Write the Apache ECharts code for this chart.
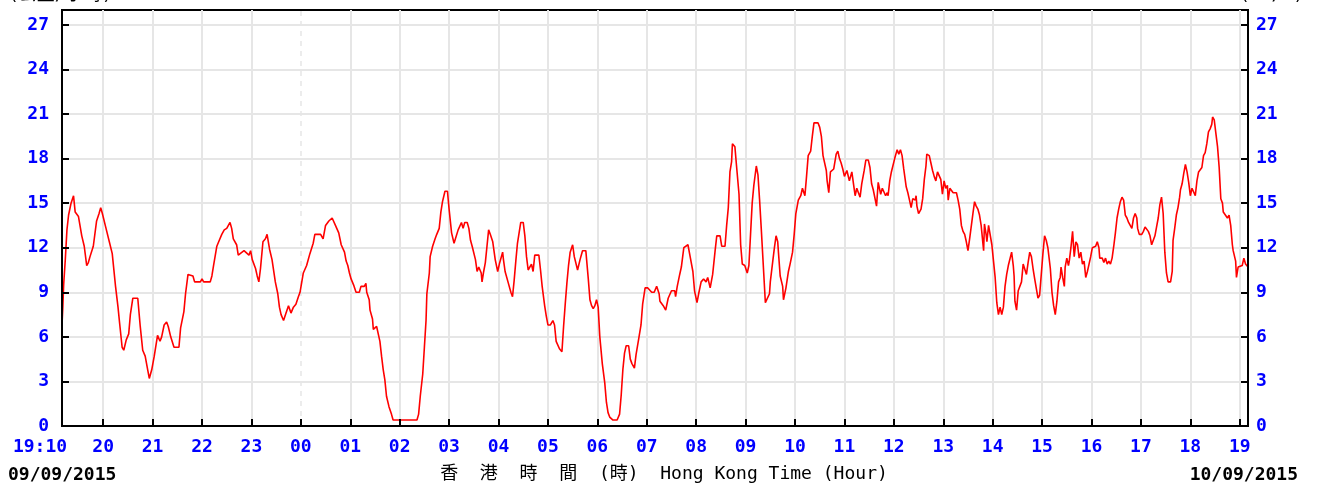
<!DOCTYPE html>
<html>
<head>
<meta charset="utf-8">
<script src="https://cdn.jsdelivr.net/npm/echarts@6/dist/echarts.min.js"></script>
<style>
  html, body { margin: 0; padding: 0; background: #ffffff; }
  #chart { width: 1320px; height: 490px; }
</style>
</head>
<body>
<div id="chart"></div>
<script>
// Wind speed record, 19:10 on 09/09/2015 to 19:10 on 10/09/2015.
// Times are minutes elapsed since 19:10; speeds in km/h.
const elapsedMin = [
  0, 1, 2, 4, 6, 8, 11, 14, 16, 20, 24, 27, 30, 32, 34, 38, 40, 42, 45, 47, 49, 53, 57, 61, 65, 68, 70, 73, 75, 78,
  81, 83, 86, 92, 95, 98, 101, 104, 106, 109, 112, 116, 119, 121, 124, 127, 129, 132, 136, 142, 144, 148, 150, 153, 155, 159, 161, 168, 170, 172,
  180, 182, 184, 188, 191, 194, 197, 200, 204, 206, 208, 212, 214, 221, 227, 229, 231, 235, 237, 239, 241, 244, 247, 249, 252, 255, 259, 262, 264, 266,
  269, 272, 275, 278, 281, 284, 287, 289, 293, 297, 301, 305, 307, 314, 317, 320, 324, 328, 332, 336,
  339, 341, 343, 345, 347, 349, 351, 354, 357, 361, 363, 367, 369, 370, 373, 374, 377, 378, 382, 384, 386, 388, 390, 392, 394, 397, 400, 402, 431, 433,
  435, 438, 440, 442, 443, 446, 447, 450, 453, 455, 458, 460, 462, 465, 468, 470, 473, 476, 478, 481, 483, 485, 487, 489, 492, 494, 496, 498, 500, 502,
  504, 506, 509, 510, 512, 514, 516, 518, 520, 523, 526, 529, 531, 533, 535, 536, 538, 542, 545, 547, 549, 551, 553, 555, 557, 560, 562, 564, 566, 568,
  570, 572, 574, 579, 581, 583, 586, 588, 590, 593, 596, 598, 600, 604, 607, 609, 611, 613, 615, 617, 620, 622, 626, 627, 629, 632, 636, 639, 641, 643,
  645, 647, 649, 651, 653, 656, 659, 661, 663, 665, 669, 674, 677, 679, 681, 683, 685, 688, 690, 692, 695, 697, 700, 703, 705, 708, 711, 716, 719, 722, 725,
  726, 730, 733, 736, 740, 744, 745, 747, 750, 752, 755, 760, 763, 766, 768, 771, 773, 776, 779, 782, 784, 787, 790, 793, 795, 799, 801, 805, 807, 809,
  811, 813, 814, 817, 819, 822, 824, 826, 829, 832, 834, 836, 838, 840, 843, 845, 847, 849, 852, 854, 856, 859, 860, 863, 865, 867, 869, 870, 872, 875,
  876, 879, 882, 884, 887, 889, 891, 894, 897, 899, 902, 904, 906, 909, 911, 913, 918, 920, 922, 924, 928, 929, 931, 933, 937, 940, 942, 944, 946, 948,
  950, 953, 956, 959, 961, 963, 965, 967, 969, 971, 974, 976, 979, 981, 983, 985, 987, 989, 991,
  992, 994, 996, 998, 1000, 1002, 1003, 1005, 1007, 1009, 1011, 1014, 1016, 1018, 1020, 1022, 1025, 1027, 1029, 1031, 1033, 1036, 1037, 1038, 1040, 1043, 1045, 1047, 1049, 1050,
  1053, 1055, 1057, 1059, 1061, 1063, 1065, 1067, 1069, 1071, 1073, 1075, 1076, 1078, 1080, 1082, 1084, 1086, 1088, 1090, 1092, 1094, 1096, 1098, 1100, 1102, 1104, 1106, 1108, 1110,
  1112, 1114, 1116, 1119, 1120, 1122, 1123, 1125, 1127, 1129, 1131, 1133, 1135, 1137, 1139, 1141, 1143, 1145, 1147, 1149, 1151, 1153, 1155, 1156, 1157, 1159, 1161, 1163, 1165, 1167,
  1169, 1171, 1173, 1175, 1177, 1179, 1181, 1183, 1185, 1187, 1189, 1191, 1193, 1195, 1197, 1200, 1202, 1204, 1206, 1208, 1210, 1212,
  1213, 1215, 1217, 1218, 1220, 1222, 1223, 1225, 1227, 1229, 1231, 1233, 1235, 1237, 1239, 1241, 1243, 1245, 1247, 1249, 1251, 1255, 1257, 1259, 1260, 1263, 1265, 1267, 1269, 1271,
  1273, 1275, 1277, 1279, 1281, 1283, 1285, 1287, 1289, 1291, 1293, 1295, 1297, 1299, 1301, 1303, 1305, 1306, 1308, 1311, 1313, 1315, 1317, 1319, 1321, 1323, 1325, 1327, 1329, 1331,
  1333, 1335, 1337, 1339, 1341, 1343, 1346, 1348, 1349, 1351, 1353, 1355, 1357, 1358, 1360, 1362, 1364, 1366, 1368, 1370, 1372, 1374, 1376, 1378, 1380, 1384, 1386, 1388, 1390, 1392,
  1394, 1396, 1397, 1399, 1401, 1403, 1405, 1407, 1409, 1410, 1412, 1415, 1417, 1419, 1421, 1422, 1425, 1426, 1428, 1430, 1433, 1435, 1437, 1439, 1440
];
const speedKmh = [
  6.8, 8.0, 9.5, 11.2, 13.2, 14.2, 15.0, 15.5, 14.4, 14.1, 12.8, 12.1, 10.8, 11.0, 11.4, 12.1, 12.2, 13.8, 14.3, 14.7, 14.3, 13.4, 12.5, 11.6, 9.4, 8.0, 6.9, 5.3, 5.1, 5.8,
  6.2, 7.5, 8.6, 8.6, 6.7, 5.1, 4.7, 3.8, 3.2, 3.8, 4.7, 6.1, 5.7, 6.0, 6.8, 7.0, 6.7, 6.0, 5.3, 5.3, 6.6, 7.7, 8.9, 10.2, 10.3, 10.1, 9.7, 9.7, 9.9, 9.7,
  9.7, 10.1, 10.8, 12.1, 12.5, 12.9, 13.2, 13.3, 13.7, 13.3, 12.6, 12.2, 11.5, 11.8, 11.5, 11.8, 11.2, 10.6, 10.1, 9.7, 10.6, 12.4, 12.6, 12.9, 11.9, 11.2, 9.7, 8.9, 8.0, 7.5,
  7.1, 7.6, 8.1, 7.6, 8.0, 8.2, 8.7, 9.0, 10.3, 10.8, 11.6, 12.3, 12.9, 12.9, 12.6, 13.5, 13.8, 14.0, 13.5, 13.0,
  12.2, 12.3, 11.7, 11.1, 10.8, 10.3, 9.9, 9.5, 9.0, 9.0, 9.4, 9.4, 9.6, 9.0, 8.5, 7.8, 7.2, 6.5, 6.7, 6.8, 5.7, 4.7, 3.8, 3.1, 2.0, 1.3, 0.8, 0.4, 0.4, 0.8,
  2.0, 3.5, 5.3, 7.1, 8.9, 10.3, 11.4, 12.1, 12.6, 12.9, 13.3, 14.4, 15.1, 15.8, 15.8, 14.6, 13.0, 12.3, 12.4, 13.2, 13.3, 13.7, 13.3, 13.7, 13.7, 13.3, 12.5, 12.1, 12.2, 11.2,
  10.4, 10.7, 10.3, 9.7, 10.4, 11.0, 12.1, 13.2, 12.9, 12.4, 11.2, 10.4, 10.9, 11.3, 11.7, 11.2, 10.4, 9.6, 9.0, 8.7, 9.8, 11.1, 12.3, 13.0, 13.7, 13.7, 12.8, 11.4, 10.5, 10.4,
  10.9, 10.4, 11.5, 11.5, 10.5, 9.4, 8.1, 7.4, 6.8, 6.8, 7.1, 6.8, 5.7, 5.2, 5.0, 6.7, 8.2, 9.6, 10.8, 11.7, 12.2, 11.4, 10.5, 10.4, 11.2, 11.8, 11.8, 9.9, 8.5, 8.1,
  7.9, 8.1, 8.5, 8.0, 6.0, 4.2, 2.9, 1.6, 0.9, 0.6, 0.4, 0.4, 0.8, 2.1, 3.8, 4.9, 5.4, 5.4, 4.5, 4.2, 3.9, 4.8, 5.8, 6.8, 8.2, 9.3, 9.3, 9.0, 9.0, 9.4, 8.9,
  8.4, 8.1, 7.8, 8.6, 9.1, 9.1, 8.7, 9.4, 10.2, 10.7, 12.0, 12.2, 11.3, 10.4, 9.1, 8.3, 8.9, 9.7, 9.9, 9.7, 10.0, 9.3, 10.2, 11.8, 12.8, 12.8, 12.1, 12.1, 13.5, 14.7,
  17.1, 17.8, 19.0, 18.8, 17.5, 15.6, 12.2, 10.9, 10.8, 10.3, 10.8, 12.9, 15.0, 16.2, 17.5, 16.9, 15.2, 13.3, 10.3, 8.3, 8.2, 8.9, 9.7, 11.1, 12.0, 12.8, 12.4, 11.6, 10.1, 9.4,
  8.5, 9.3, 10.4, 10.9, 11.7, 12.9, 14.3, 15.2, 15.5, 16.0, 15.5, 16.8, 18.2, 18.5, 19.5, 20.4, 20.4, 20.1, 19.5, 18.2, 17.2, 16.5, 15.7, 17.1, 17.3, 18.3, 18.5, 18.0, 17.7, 17.3,
  16.8, 17.2, 16.5, 17.1, 16.3, 15.5, 16.0, 15.7, 15.4, 16.3, 17.2, 17.9, 17.9, 17.4, 16.3, 15.9, 16.0, 14.8, 16.4,
  16.5, 15.6, 16.0, 15.9, 15.5, 15.7, 15.5, 16.5, 17.1, 17.2, 18.0, 18.6, 18.3, 18.6, 18.2, 17.3, 16.1, 15.7, 15.2, 14.7, 15.3, 15.2, 15.5, 14.8, 14.3, 14.6, 15.3, 16.6, 17.5, 18.3,
  18.2, 17.7, 17.2, 16.8, 16.5, 17.1, 17.2, 16.6, 15.6, 16.5, 16.0, 16.2, 15.2, 16.0, 16.1, 15.7, 15.6, 15.7, 15.2, 14.6, 13.5, 13.1, 12.9, 12.4, 11.8, 12.6, 12.7, 14.3, 15.1, 14.8,
  14.6, 14.2, 13.5, 11.8, 13.6, 12.9, 12.4, 13.5, 13.6, 12.2, 11.1, 10.0, 8.3, 7.5, 8.0, 7.5, 8.0, 9.4, 10.2, 10.8, 10.7, 11.7, 10.8, 10.1, 8.4, 7.8, 9.1, 9.0, 9.7, 10.9,
  11.0, 10.2, 11.0, 11.7, 11.4, 10.6, 9.9, 9.8, 8.6, 8.8, 10.2, 11.6, 12.8, 12.5, 12.0, 10.6, 9.0, 8.1, 7.5, 8.4, 9.7, 10.0,
  10.7, 10.0, 9.4, 10.7, 11.3, 10.8, 11.1, 12.0, 13.1, 11.4, 12.4, 12.2, 11.3, 11.7, 10.9, 11.1, 10.0, 10.4, 10.9, 11.4, 12.0, 12.1, 12.4, 12.0, 11.3, 11.3, 11.0, 11.3, 10.9, 11.1,
  10.9, 11.3, 12.1, 13.0, 14.0, 14.6, 15.1, 15.4, 15.2, 14.2, 14.0, 13.7, 13.5, 13.3, 14.0, 14.3, 14.0, 13.3, 12.9, 12.9, 13.1, 13.4, 13.5, 13.1, 12.8, 12.2, 12.2, 12.8, 13.4, 14.0,
  14.9, 15.4, 14.3, 11.7, 10.3, 9.7, 9.7, 10.4, 12.5, 13.3, 14.2, 14.7, 15.4, 15.9, 16.3, 17.0, 17.6, 17.1, 16.4, 15.5, 16.0, 16.1, 15.5, 16.5, 17.1, 17.4, 18.2, 18.4, 19.0, 19.8,
  20.0, 20.3, 20.8, 20.6, 19.7, 18.8, 17.4, 15.3, 15.0, 14.4, 14.3, 14.0, 14.2, 13.5, 12.2, 11.8, 11.1, 10.0, 10.7, 10.8, 10.8, 11.3, 10.9, 10.8, 10.7
];

// Hour ticks (minutes since 19:10) and their labels
const hourTicks = [50, 110, 170, 230, 290, 350, 410, 470, 530, 590, 650, 710, 770, 830, 890, 950, 1010, 1070, 1130, 1190, 1250, 1310, 1370, 1430];
const hourLabels = ['20', '21', '22', '23', '00', '01', '02', '03', '04', '05', '06', '07', '08', '09', '10', '11', '12', '13', '14', '15', '16', '17', '18', '19'];
const startLabel = '19:10';
const midnightTick = 290;
const speedTicks = [0, 3, 6, 9, 12, 15, 18, 21, 24, 27];
const startDate = '09/09/2015';
const endDate = '10/09/2015';
const xTitle = '香  港  時  間  (時)  Hong Kong Time (Hour)';
const leftUnit = '(公里/小時)';
const rightUnit = '(km/h)';

const MONO = '"DejaVu Sans Mono", "Liberation Mono", "Noto Sans CJK TC", monospace';
const BLUE = '#0000ff';
const GRID_GREY = '#e6e6e6';

const chart = echarts.init(document.getElementById('chart'), null, { renderer: 'canvas' });

const seriesData = elapsedMin.map((m, i) => [m, speedKmh[i]]);

// Reference lines for the plot background (hours and speed steps)
const gridLines = [];
hourTicks.forEach(m => {
  const item = { xAxis: m };
  if (m === midnightTick) item.lineStyle = { type: [5, 5], color: GRID_GREY, width: 1.5 };
  gridLines.push(item);
});
speedTicks.filter(v => v > 0).forEach(v => gridLines.push({ yAxis: v }));

const yLabelBase = {
  color: BLUE,
  fontFamily: MONO,
  fontWeight: 'bold',
  fontSize: 18,
  customValues: speedTicks
};
const yTickBase = {
  show: true,
  inside: true,
  length: 7,
  customValues: speedTicks,
  lineStyle: { color: '#000', width: 2 }
};

chart.setOption({
  animation: false,
  backgroundColor: '#ffffff',
  grid: {
    left: 62, right: 72, top: 10, bottom: 64,
    show: true,
    borderColor: '#000',
    borderWidth: 2,
    backgroundColor: 'transparent'
  },
  xAxis: {
    type: 'value',
    min: 0,
    max: 1440,
    z: 5,
    axisLine: { show: true, lineStyle: { color: '#000', width: 2 } },
    axisTick: {
      show: true, inside: true, length: 7,
      customValues: hourTicks,
      lineStyle: { color: '#000', width: 2 }
    },
    splitLine: { show: false },
    axisLabel: {
      customValues: [0].concat(hourTicks),
      margin: 12,
      color: BLUE,
      fontFamily: MONO,
      fontWeight: 'bold',
      fontSize: 18,
      formatter: function (v) {
        if (v === 0) return '{first|' + startLabel + '}';
        const idx = hourTicks.indexOf(v);
        return idx >= 0 ? hourLabels[idx] : '';
      },
      rich: {
        first: {
          color: BLUE, fontFamily: MONO, fontWeight: 'bold', fontSize: 18,
          padding: [0, 44, 0, 0]
        }
      }
    }
  },
  yAxis: [
    {
      type: 'value', position: 'left', min: 0, max: 28, z: 5,
      axisLine: { show: true, lineStyle: { color: '#000', width: 2 } },
      axisTick: yTickBase,
      splitLine: { show: false },
      axisLabel: Object.assign({ margin: 13 }, yLabelBase)
    },
    {
      type: 'value', position: 'right', min: 0, max: 28, z: 5,
      axisLine: { show: true, lineStyle: { color: '#000', width: 2 } },
      axisTick: yTickBase,
      splitLine: { show: false },
      axisLabel: Object.assign({ margin: 8 }, yLabelBase)
    }
  ],
  graphic: [
    {
      type: 'text', x: 8, y: 466, silent: true,
      style: { text: startDate, fill: '#000', font: 'bold 18px ' + MONO, textAlign: 'left', textVerticalAlign: 'top' }
    },
    {
      type: 'text', x: 1298, y: 466, silent: true,
      style: { text: endDate, fill: '#000', font: 'bold 18px ' + MONO, textAlign: 'right', textVerticalAlign: 'top' }
    },
    {
      type: 'text', x: 664, y: 465, silent: true,
      style: { text: xTitle, fill: '#000', font: '18px ' + MONO, textAlign: 'center', textVerticalAlign: 'top' }
    },
    {
      type: 'text', x: 8, y: -14, silent: true,
      style: { text: leftUnit, fill: '#000', font: '18px ' + MONO, textAlign: 'left', textVerticalAlign: 'top' }
    },
    {
      type: 'text', x: 1304, y: -14, silent: true,
      style: { text: rightUnit, fill: '#000', font: '18px ' + MONO, textAlign: 'right', textVerticalAlign: 'top' }
    }
  ],
  series: [
    {
      name: 'grid',
      type: 'line',
      data: [],
      silent: true,
      z: 1,
      markLine: {
        silent: true,
        animation: false,
        z: 1,
        symbol: ['none', 'none'],
        label: { show: false },
        emphasis: { disabled: true },
        lineStyle: { color: GRID_GREY, width: 2, type: 'solid' },
        data: gridLines
      }
    },
    {
      name: '風速',
      type: 'line',
      data: seriesData,
      z: 3,
      showSymbol: false,
      symbol: 'none',
      clip: true,
      lineStyle: { color: '#ff0000', width: 1.6 },
      emphasis: { disabled: true }
    }
  ]
});
</script>
</body>
</html>
